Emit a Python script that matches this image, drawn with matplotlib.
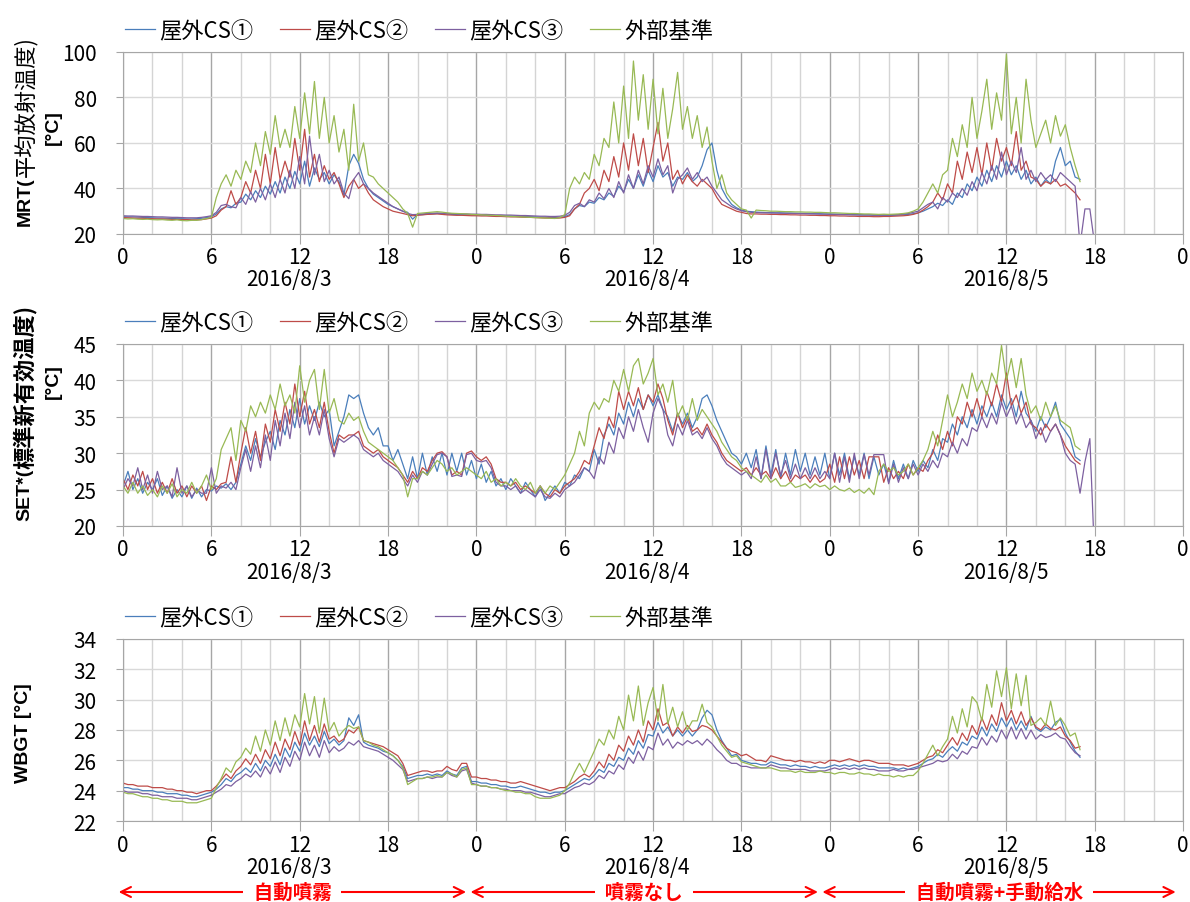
import numpy as np
import matplotlib
matplotlib.use('Agg')
import matplotlib.pyplot as plt
import matplotlib.transforms as mtransforms

plt.rcParams['font.family'] = ['Noto Sans CJK JP', 'DejaVu Sans']

series_names = ['屋外CS①', '屋外CS②', '屋外CS③', '外部基準']
colors = ['#4a7ebb', '#be4b48', '#7d60a0', '#98b954']
hour_labels = ['0', '6', '12', '18'] * 3 + ['0']
dates = ['2016/8/3', '2016/8/4', '2016/8/5']
date_pos = [11.3, 35.6, 60.0]
periods = ['自動噴霧', '噴霧なし', '自動噴霧+手動給水']
period_spans = [(-0.3, 23.3), (23.6, 47.2), (47.5, 71.5)]

# values every 20 min from 2016/8/3 0:00 (6 values = 2 hours per row)
mrt_cs1 = [
    27.6, 27.5, 27.5, 27.4, 27.3, 27.2,
    27.1, 27.0, 27.0, 26.9, 26.8, 26.7,
    26.7, 26.6, 26.6, 26.7, 26.9, 27.2,
    27.6, 28.8, 31.0, 32.0, 31.5, 33.5,
    34.0, 37.5, 35.0, 39.0, 36.0, 41.0,
    37.5, 43.0, 38.0, 45.0, 40.0, 47.5,
    42.0, 52.0, 41.0, 49.0, 44.0, 47.0,
    42.0, 46.0, 43.0, 37.0, 50.0, 55.0,
    51.0, 44.0, 40.0, 37.5, 36.0, 34.5,
    33.0, 32.0, 31.0, 30.0, 29.5, 26.5,
    28.5, 28.5, 28.7, 28.8, 29.0, 28.9,
    28.8, 28.6, 28.5, 28.5, 28.4, 28.4,
    28.3, 28.3, 28.2, 28.1, 28.0, 28.0,
    27.9, 27.9, 27.8, 27.7, 27.7, 27.6,
    27.5, 27.4, 27.4, 27.3, 27.2, 27.3,
    27.6, 28.5, 31.0, 32.5, 32.0, 34.0,
    33.5, 36.0, 35.0, 38.0, 36.5, 41.0,
    38.5, 44.0, 40.0, 46.0, 41.0, 48.0,
    43.0, 50.0, 45.0, 47.0, 41.0, 45.0,
    44.0, 47.0, 43.0, 45.0, 50.0, 57.0,
    60.0, 48.0, 40.0, 36.0, 33.0, 31.5,
    30.5, 30.0, 29.8, 29.6, 29.5, 29.4,
    29.4, 29.3, 29.3, 29.2, 29.2, 29.1,
    29.1, 29.0, 29.0, 28.9, 28.9, 28.8,
    28.8, 28.7, 28.7, 28.6, 28.6, 28.5,
    28.5, 28.4, 28.4, 28.3, 28.3, 28.2,
    28.2, 28.2, 28.3, 28.4, 28.6, 28.9,
    29.3, 30.0, 31.0, 32.0, 33.5, 32.5,
    35.0, 33.0, 38.0, 36.0, 42.0, 39.0,
    45.0, 41.0, 48.0, 43.0, 50.0, 45.0,
    52.0, 46.0, 50.0, 44.0, 48.0, 42.0,
    45.0, 41.0, 44.0, 42.0, 52.0, 58.0,
    50.0, 52.0, 45.0, 44.0,
]
mrt_cs2 = [
    27.2, 27.1, 27.0, 26.9, 26.9, 26.8,
    26.7, 26.6, 26.6, 26.5, 26.4, 26.4,
    26.3, 26.3, 26.2, 26.2, 26.3, 26.6,
    27.0, 28.0, 30.5, 32.0, 39.0, 33.0,
    36.0, 43.0, 38.0, 48.0, 40.0, 55.0,
    42.0, 58.0, 44.0, 52.0, 45.0, 62.0,
    48.0, 66.0, 45.0, 55.0, 43.0, 50.0,
    44.0, 47.0, 42.0, 36.0, 41.0, 44.0,
    40.0, 42.0, 38.0, 35.0, 33.5, 32.0,
    31.0, 30.0, 29.5, 29.0, 28.5, 28.0,
    28.2, 28.4, 28.6, 28.7, 28.8, 28.6,
    28.4, 28.3, 28.2, 28.2, 28.1, 28.0,
    28.0, 27.9, 27.9, 27.8, 27.7, 27.7,
    27.6, 27.5, 27.5, 27.4, 27.3, 27.3,
    27.2, 27.1, 27.0, 27.0, 26.9, 27.0,
    27.3, 28.0, 31.0, 33.0, 38.0, 40.0,
    44.0, 39.0, 48.0, 43.0, 54.0, 45.0,
    60.0, 48.0, 64.0, 50.0, 62.0, 47.0,
    58.0, 69.0, 52.0, 60.0, 44.0, 48.0,
    42.0, 46.0, 43.0, 41.0, 44.0, 42.0,
    40.0, 36.0, 33.0, 32.0, 31.0, 30.0,
    29.5, 29.0, 28.8, 28.8, 28.7, 28.7,
    28.6, 28.6, 28.5, 28.5, 28.4, 28.4,
    28.3, 28.3, 28.2, 28.2, 28.1, 28.1,
    28.0, 28.0, 27.9, 27.9, 27.8, 27.8,
    27.7, 27.7, 27.7, 27.6, 27.6, 27.7,
    27.7, 27.8, 27.9, 28.0, 28.2, 28.6,
    29.2, 30.5, 32.0, 34.0, 38.0, 35.0,
    42.0, 38.0, 52.0, 44.0, 56.0, 47.0,
    58.0, 46.0, 60.0, 48.0, 62.0, 52.0,
    58.0, 50.0, 65.0, 48.0, 52.0, 45.0,
    44.0, 41.0, 43.0, 42.0, 44.0, 41.0,
    42.0, 40.0, 38.0, 35.0,
]
mrt_cs3 = [
    28.0, 27.9, 27.9, 27.8, 27.7, 27.7,
    27.6, 27.5, 27.5, 27.4, 27.3, 27.3,
    27.2, 27.1, 27.1, 27.1, 27.3, 27.6,
    28.0, 29.5, 32.5, 33.0, 32.0, 31.5,
    36.0, 33.0, 38.5, 34.0, 40.0, 35.0,
    42.0, 36.0, 44.0, 38.0, 48.0, 40.0,
    54.0, 42.0, 63.0, 46.0, 55.0, 43.0,
    48.0, 42.0, 45.0, 38.0, 35.5, 44.0,
    47.0, 42.0, 40.0, 38.0, 36.5, 35.0,
    33.5, 32.0, 31.0, 30.0, 29.0, 28.5,
    28.6, 28.8, 29.0, 29.1, 29.2, 29.1,
    29.0, 28.9, 28.9, 28.8, 28.8, 28.7,
    28.7, 28.6, 28.6, 28.5, 28.4, 28.4,
    28.3, 28.3, 28.2, 28.1, 28.1, 28.0,
    27.9, 27.8, 27.8, 27.7, 27.7, 27.8,
    28.2, 29.5, 32.5, 33.5, 32.0, 35.0,
    34.0, 38.0, 35.5, 40.0, 36.0, 43.0,
    38.0, 46.0, 40.0, 48.0, 42.0, 50.0,
    45.0, 53.0, 46.0, 50.0, 38.0, 44.0,
    46.0, 49.0, 44.0, 47.0, 43.0, 45.0,
    41.0, 38.0, 35.0, 33.5, 32.0, 31.0,
    30.2, 29.8, 29.5, 29.4, 29.3, 29.3,
    29.2, 29.2, 29.1, 29.1, 29.0, 29.0,
    28.9, 28.9, 28.8, 28.8, 28.7, 28.7,
    28.6, 28.6, 28.5, 28.5, 28.4, 28.4,
    28.3, 28.3, 28.3, 28.2, 28.2, 28.3,
    28.3, 28.4, 28.5, 28.7, 29.0, 29.5,
    30.0, 31.5, 33.0, 34.0, 31.0, 36.0,
    34.0, 38.0, 36.0, 40.0, 37.0, 43.0,
    39.0, 47.0, 42.0, 50.0, 44.0, 56.0,
    46.0, 52.0, 47.0, 58.0, 44.0, 48.0,
    43.0, 47.0, 44.0, 46.0, 43.0, 47.0,
    45.0, 43.0, 41.0, 15.0, 31.0, 31.0,
    15.0,
]
mrt_ref = [
    26.8, 26.6, 26.7, 26.5, 26.4, 26.5,
    26.3, 26.2, 26.3, 26.1, 26.0, 26.2,
    25.9, 25.8, 26.0, 26.0, 26.3, 26.8,
    27.3, 36.0, 42.0, 46.0, 41.0, 48.0,
    44.0, 52.0, 47.0, 60.0, 50.0, 65.0,
    55.0, 72.0, 58.0, 66.0, 58.0, 76.0,
    62.0, 82.0, 64.0, 87.0, 62.0, 80.0,
    60.0, 72.0, 56.0, 66.0, 48.0, 77.0,
    52.0, 60.0, 46.0, 45.0, 42.0, 40.0,
    38.0, 36.0, 34.0, 31.0, 29.0, 23.0,
    29.0, 29.2, 29.4, 29.6, 29.8, 29.6,
    29.3, 29.1, 29.0, 28.9, 28.8, 28.6,
    28.5, 28.4, 28.3, 28.2, 28.1, 28.0,
    27.8, 27.7, 27.6, 27.5, 27.4, 27.3,
    27.2, 27.1, 27.0, 26.9, 26.8, 27.2,
    28.5, 40.0, 45.0, 42.0, 47.0, 44.0,
    55.0, 50.0, 62.0, 58.0, 78.0, 60.0,
    85.0, 62.0, 96.0, 70.0, 90.0, 66.0,
    88.0, 64.0, 84.0, 62.0, 75.0, 91.0,
    66.0, 76.0, 62.0, 72.0, 58.0, 67.0,
    52.0, 40.0, 46.0, 38.0, 35.0, 33.0,
    31.0, 30.5, 27.0, 30.5, 30.3, 30.2,
    30.0, 30.0, 29.9, 29.8, 29.8, 29.7,
    29.7, 29.6, 29.6, 29.5, 29.5, 29.4,
    29.3, 29.3, 29.2, 29.1, 29.0, 29.0,
    28.9, 28.8, 28.8, 28.7, 28.6, 28.7,
    28.6, 28.7, 28.8, 29.0, 29.3, 30.0,
    31.0, 34.0, 38.0, 42.0, 38.0, 46.0,
    48.0, 62.0, 54.0, 68.0, 58.0, 80.0,
    62.0, 74.0, 88.0, 66.0, 82.0, 70.0,
    99.0, 64.0, 80.0, 60.0, 88.0, 70.0,
    58.0, 64.0, 70.0, 60.0, 72.0, 63.0,
    68.0, 58.0, 50.0, 43.0,
]

set_cs1 = [
    25.5, 27.5, 25.0, 26.5, 24.5, 26.0,
    25.0, 26.5, 24.2, 25.5, 23.8, 25.0,
    24.0, 25.5, 23.8, 25.2, 24.0, 25.0,
    24.8, 25.5, 25.2, 25.8, 25.0, 26.0,
    28.5, 31.0, 29.0, 32.0, 29.5, 31.5,
    33.0, 30.5, 34.5, 32.5, 36.0, 33.5,
    37.5, 34.0, 36.5, 34.5, 37.0, 35.0,
    36.0, 31.0, 33.0, 35.0, 38.0, 37.5,
    38.0, 35.5, 33.5, 32.5, 33.5, 31.0,
    31.0, 29.0, 30.5, 28.5, 26.5, 29.5,
    26.5, 30.0, 27.0, 29.5, 27.5, 30.0,
    27.0, 30.0, 27.5, 30.0, 27.0, 29.0,
    26.5, 28.5, 26.0, 27.5, 25.5, 26.5,
    25.0, 26.5, 25.5, 24.5, 26.0, 25.0,
    24.0, 25.5, 23.5, 24.5, 25.5, 24.5,
    26.0, 25.5, 27.0, 26.5, 28.0, 27.5,
    30.5, 28.5, 32.5, 34.0, 32.5, 35.5,
    34.0, 37.0, 35.0, 37.5, 36.0, 38.0,
    36.5, 38.0, 36.0, 35.0, 33.0, 35.5,
    34.0, 35.5, 33.5, 35.0, 37.5, 38.0,
    36.5, 34.5, 33.0, 31.5, 30.0, 29.5,
    28.5, 30.0, 28.0, 30.5, 26.5, 31.0,
    27.0, 30.5, 26.5, 30.0, 27.0, 30.5,
    27.5, 30.0, 27.0, 29.5, 27.0, 30.0,
    26.5, 30.0, 27.0, 30.0, 26.5, 29.5,
    27.0, 30.0, 26.5, 29.5, 27.0, 28.5,
    26.0, 29.0, 26.5, 28.5, 26.5, 29.0,
    27.5, 29.0, 28.0, 30.5, 29.0, 32.0,
    31.5, 34.0, 32.5, 35.0, 33.5, 36.0,
    34.0, 36.5, 35.0, 37.0, 35.0, 38.0,
    36.0, 37.5, 35.0, 38.5, 35.5, 34.5,
    33.0, 35.0, 33.5, 35.0, 37.0, 34.0,
    33.0, 32.0, 29.5, 29.0,
]
set_cs2 = [
    26.5, 25.0, 27.0, 25.5, 27.5, 25.0,
    26.5, 24.5, 26.0, 24.5, 26.5, 24.5,
    25.5, 24.0, 25.5, 24.5, 25.5, 23.5,
    25.5, 25.0, 25.8, 26.0, 29.5, 26.0,
    30.0, 33.5, 30.0, 33.0, 29.0, 34.0,
    31.5, 36.0, 33.0, 37.0, 34.0, 39.5,
    35.0, 38.5, 34.0, 36.0, 33.5, 37.0,
    33.0, 30.0, 32.5, 32.0, 32.5, 32.5,
    33.0, 31.0, 30.5, 30.0, 30.5, 29.5,
    29.0, 28.5, 28.0, 27.0, 26.0, 27.5,
    26.5, 28.0, 27.5, 29.0, 30.0, 30.2,
    29.5, 27.0, 27.5, 27.0, 30.0, 30.3,
    29.5, 29.0, 29.5, 28.5, 26.5, 26.0,
    26.0, 25.5, 26.0, 25.0, 25.5, 25.0,
    24.5, 25.5, 24.5, 24.0, 25.0, 24.5,
    25.5, 26.0, 26.5, 27.5, 29.0, 28.5,
    31.0, 33.5, 32.0, 35.0, 33.5, 38.5,
    36.0, 38.5, 36.5, 39.0, 36.0, 38.0,
    37.0, 39.5, 37.5, 34.5, 32.5, 35.5,
    33.5, 35.0, 33.0, 33.5, 32.5, 34.0,
    32.5, 31.5, 30.0, 29.0, 28.5, 28.0,
    27.5, 28.0, 27.0, 28.0, 27.0, 27.5,
    26.5, 28.0, 26.5, 27.5, 26.0, 27.0,
    26.5, 27.0, 26.0, 27.0, 26.0, 26.5,
    28.5, 26.0, 29.5, 26.5, 29.5, 27.0,
    29.0, 26.5, 29.5, 29.5, 29.5, 26.0,
    28.0, 26.5, 27.5, 26.5, 28.5, 27.0,
    28.0, 27.5, 29.0, 30.0, 32.5, 30.5,
    33.0, 31.0, 35.0, 34.0, 37.0, 35.0,
    37.5, 35.0, 38.5, 36.5, 39.5, 37.0,
    41.0, 36.5, 38.0, 35.5, 37.0, 34.0,
    33.5, 32.5, 34.0, 33.0, 34.0, 32.5,
    31.0, 30.0, 29.0, 28.5,
]
set_cs3 = [
    25.0, 26.5, 25.5, 28.0, 25.0, 27.0,
    24.5, 27.5, 25.0, 25.5, 24.0, 28.0,
    24.5, 25.5, 24.0, 25.0, 24.5, 24.5,
    28.0, 24.5, 25.5, 25.2, 26.0, 25.0,
    28.0, 30.5, 27.5, 31.0, 28.0, 32.5,
    29.0, 34.5, 31.0, 35.5, 32.0, 37.0,
    33.5, 36.5, 32.5, 35.0, 32.5, 36.0,
    32.0, 29.5, 32.0, 31.5, 32.0, 32.5,
    32.0, 30.5, 30.0, 29.5, 30.0, 29.0,
    28.5, 28.0, 27.5, 26.5, 25.5, 27.0,
    26.0, 27.5, 27.0, 28.5, 29.8, 30.0,
    29.5, 26.8, 27.0, 26.8, 29.8, 30.0,
    29.0, 28.8, 29.0, 28.0, 26.0, 25.5,
    25.5, 25.0, 25.5, 24.5, 25.0, 24.5,
    24.0, 25.0, 24.0, 23.8, 24.5, 24.0,
    25.0, 25.5, 26.0, 27.0, 28.0, 27.5,
    26.5, 29.5, 28.5, 31.5, 30.0, 33.5,
    32.0, 35.0, 33.0, 36.0, 33.5, 31.5,
    35.5, 37.5, 36.0, 32.5, 31.0, 34.0,
    32.5, 34.5, 32.5, 33.0, 32.0, 33.5,
    32.0, 31.0, 29.5, 28.5, 28.0, 27.5,
    27.0, 27.5, 26.5, 29.5, 26.5, 30.5,
    26.5, 30.0, 27.0, 29.0, 26.5, 28.5,
    26.5, 28.0, 26.5, 28.0, 26.5, 27.5,
    26.5, 30.0, 26.0, 29.5, 26.0, 30.0,
    26.5, 29.8, 27.0, 29.8, 29.8, 29.8,
    25.8, 28.5, 26.0, 28.0, 26.5, 28.5,
    27.0, 28.5, 27.5, 29.0, 28.0, 30.0,
    29.5, 31.5, 30.0, 32.0, 31.0, 33.5,
    33.0, 35.0, 33.5, 35.5, 34.0, 37.0,
    35.0, 36.5, 34.0, 35.5, 33.5, 34.5,
    32.0, 33.5, 31.5, 33.0, 34.0, 32.5,
    30.0, 29.0, 28.5, 24.5, 28.8, 32.0,
    15.0,
]
set_ref = [
    25.5, 24.5, 26.0, 24.5, 25.5, 24.2,
    25.0, 24.0, 25.5, 24.5, 25.8, 24.0,
    25.0, 24.5, 26.0, 24.5, 25.5, 27.0,
    25.0, 26.5, 30.5, 32.0, 33.5, 29.0,
    34.5, 33.0, 36.5, 35.0, 37.0, 35.5,
    38.0, 36.0, 39.5, 36.5, 38.0, 35.5,
    42.0, 37.0, 40.0, 41.5, 36.0, 41.5,
    35.5, 37.5, 34.5, 34.0, 35.5, 34.5,
    35.0, 33.0, 31.5, 31.0, 30.5, 30.0,
    29.5, 29.0, 28.0, 27.0, 24.0, 26.5,
    26.5, 27.5, 27.0, 28.0, 29.0, 28.5,
    27.5, 28.0, 27.0, 27.5, 28.0, 27.5,
    27.0, 26.5, 27.5, 26.0, 26.5, 25.5,
    26.0, 25.5, 26.5, 25.5, 25.0, 26.0,
    24.5, 25.5, 24.5, 25.5, 25.0, 26.0,
    27.0, 28.5, 30.0, 33.0, 31.0, 35.5,
    37.0, 36.0, 37.5, 37.0, 40.0, 38.5,
    41.5, 38.5, 42.0, 43.0, 39.5, 41.0,
    43.0, 38.0, 39.5, 37.0, 40.0, 35.0,
    36.5, 34.5, 37.5, 34.5, 36.0, 35.0,
    34.0, 33.0, 31.5, 30.5, 29.5, 29.0,
    28.0, 27.5, 27.0, 26.5, 26.0, 27.0,
    26.0, 26.5, 25.5, 25.5, 26.0, 25.3,
    25.5, 25.8, 25.2, 25.8, 25.4, 25.6,
    25.0, 25.5, 25.0, 24.8, 25.2, 24.6,
    25.0, 24.5, 25.2, 24.3, 27.5, 28.5,
    27.5, 28.0, 27.0, 27.5, 28.5, 27.0,
    28.0, 29.0, 30.5, 33.0, 31.0, 34.5,
    38.0, 35.0, 37.0, 39.5, 37.5, 41.0,
    38.5, 40.0, 38.0, 41.0, 39.5, 44.8,
    40.0, 43.0, 39.0, 43.0, 38.0, 35.5,
    36.5, 34.5, 37.0, 35.0, 36.5, 34.5,
    34.0, 33.5, 31.0, 30.5,
]

wbgt_cs1 = [
    24.2, 24.2, 24.1, 24.1, 24.0, 24.0,
    24.0, 23.9, 23.9, 23.8, 23.8, 23.8,
    23.7, 23.7, 23.6, 23.6, 23.7, 23.8,
    23.9, 24.1, 24.4, 24.8, 24.6, 25.0,
    25.2, 25.5, 25.2, 25.8, 25.3, 26.0,
    25.6, 26.4, 25.7, 26.8, 26.2, 27.2,
    26.6, 27.8, 27.0, 27.6, 26.9, 27.9,
    27.1, 27.4, 27.0, 27.3, 28.8, 28.3,
    29.0, 27.2, 27.0, 26.9, 26.8, 26.6,
    26.5, 26.3, 26.0, 25.6, 24.8, 24.9,
    25.0, 25.0, 25.1, 25.0, 25.1, 25.0,
    25.3, 25.1, 25.0, 25.5, 25.6, 24.6,
    24.6, 24.5, 24.5, 24.4, 24.4, 24.3,
    24.3, 24.2, 24.2, 24.3, 24.2, 24.1,
    24.0, 23.9, 23.9, 23.8, 23.9, 23.9,
    24.0, 24.2, 24.4, 24.6, 24.8, 24.7,
    25.0, 25.4, 25.2, 25.8, 25.6, 26.2,
    26.0, 26.8, 26.4, 27.3, 26.8, 27.7,
    27.6, 28.5, 27.8, 28.2, 27.6, 28.0,
    27.6, 28.0, 27.6, 28.0, 28.8, 29.3,
    29.0, 28.0, 27.3, 26.8, 26.3, 26.4,
    26.0, 25.9, 25.8, 25.8, 25.7, 25.7,
    25.9, 25.8, 25.7, 25.7, 25.6, 25.7,
    25.6, 25.6, 25.5, 25.6, 25.5, 25.5,
    25.6, 25.7, 25.6, 25.7, 25.6, 25.7,
    25.6, 25.7, 25.6, 25.6, 25.5, 25.5,
    25.5, 25.5, 25.4, 25.5, 25.4, 25.5,
    25.6, 25.8, 26.0, 26.1, 26.4, 26.2,
    26.6, 26.9, 26.6, 27.2, 27.0, 27.6,
    27.4, 28.2, 27.6, 28.4, 27.9, 28.8,
    28.2, 28.8, 28.0, 28.6, 28.0, 28.9,
    28.1, 27.9, 28.2, 28.0, 28.5, 28.7,
    27.8, 27.2, 26.6, 26.2,
]
wbgt_cs2 = [
    24.5, 24.4, 24.4, 24.3, 24.3, 24.3,
    24.2, 24.2, 24.2, 24.1, 24.1, 24.0,
    24.0, 23.9, 23.9, 23.8, 23.9, 24.0,
    24.0, 24.3, 24.7, 25.1, 24.8, 25.3,
    25.6, 26.1, 25.7, 26.4, 25.8, 26.7,
    26.1, 27.2, 26.3, 27.4, 26.7, 27.9,
    27.0, 28.6, 27.3, 28.3, 27.2, 28.4,
    27.4, 27.6, 27.2, 27.4, 28.0, 27.8,
    28.2, 27.3, 27.2, 27.1, 27.0, 26.9,
    26.7, 26.5, 26.3, 25.8, 25.0, 25.1,
    25.2, 25.3, 25.3, 25.2, 25.3, 25.3,
    25.6, 25.4, 25.3, 25.8, 25.8, 24.9,
    24.9, 24.8, 24.8, 24.7, 24.7, 24.6,
    24.6, 24.5, 24.5, 24.6, 24.5, 24.4,
    24.3, 24.2, 24.1, 24.0, 24.1, 24.2,
    24.2, 24.4, 24.6, 24.9, 25.1, 24.9,
    25.3, 25.9, 25.5, 26.4, 26.0, 27.0,
    26.6, 27.6, 27.0, 28.0, 27.2, 28.6,
    28.0, 29.4, 28.3, 28.5, 27.6, 28.2,
    27.8, 28.3, 27.9, 28.0, 28.3, 28.2,
    28.0, 27.6, 27.2, 26.8, 26.6, 26.5,
    26.3, 26.4, 26.2, 26.0, 26.0, 25.9,
    26.3, 26.2, 26.1, 26.0, 26.0, 25.9,
    26.0, 25.9, 25.9, 25.8, 25.9, 25.8,
    26.0, 26.0, 25.9, 26.0, 26.1, 26.0,
    25.9, 26.0, 26.0, 25.9, 25.8, 25.8,
    25.8, 25.7, 25.7, 25.7, 25.6, 25.7,
    25.8, 26.0, 26.2, 26.3, 26.7, 26.5,
    27.0, 27.5, 27.0, 27.8, 27.3, 28.3,
    27.7, 28.8, 28.0, 29.0, 28.3, 29.8,
    28.6, 29.3, 28.4, 29.2, 28.3, 28.8,
    28.2, 28.0, 28.4, 28.1, 28.0, 28.2,
    27.6, 27.3, 26.8, 26.9,
]
wbgt_cs3 = [
    24.0, 23.9, 23.9, 23.9, 23.8, 23.8,
    23.7, 23.7, 23.6, 23.6, 23.6, 23.5,
    23.5, 23.5, 23.4, 23.4, 23.5, 23.6,
    23.7, 23.9, 24.1, 24.4, 24.3, 24.6,
    24.8, 25.1, 24.9, 25.3, 24.9, 25.6,
    25.1, 25.9, 25.2, 26.2, 25.6, 26.6,
    26.0, 27.2, 26.3, 27.0, 26.2, 27.3,
    26.5, 26.9, 26.6, 26.8, 27.2, 27.0,
    27.3, 26.9, 26.8, 26.7, 26.6, 26.4,
    26.2, 26.0, 25.7, 25.4, 24.6, 24.7,
    24.8, 24.8, 24.9, 24.8, 24.9, 24.9,
    25.2, 25.0, 24.9, 25.3, 25.4, 24.5,
    24.4, 24.3, 24.3, 24.2, 24.2, 24.1,
    24.1, 24.0, 24.0, 24.0, 23.9, 23.9,
    23.8, 23.7, 23.6, 23.6, 23.7, 23.8,
    23.8, 24.0, 24.2, 24.3, 24.5, 24.4,
    24.6, 25.0, 24.8, 25.3, 25.1, 25.7,
    25.4, 26.2, 25.8, 26.6, 26.0, 26.9,
    26.7, 27.8, 27.0, 27.4, 26.8, 27.2,
    27.0, 27.3, 27.1, 27.3, 27.0, 27.4,
    27.1, 26.7, 26.4, 26.0, 25.8, 25.8,
    25.6, 25.6, 25.5, 25.5, 25.5, 25.5,
    25.7, 25.6, 25.5, 25.5, 25.4, 25.4,
    25.4, 25.4, 25.3, 25.3, 25.3, 25.3,
    25.4, 25.5, 25.4, 25.5, 25.4, 25.5,
    25.4, 25.5, 25.4, 25.4, 25.3, 25.3,
    25.3, 25.4, 25.3, 25.3, 25.4, 25.4,
    25.5, 25.6, 25.7, 25.8, 26.0, 25.9,
    26.0, 26.4, 26.1, 26.6, 26.4, 26.9,
    26.8, 27.5, 27.0, 27.6, 27.2, 28.0,
    27.4, 28.2, 27.4, 28.1, 27.4, 28.0,
    27.4, 27.7, 27.5, 27.6, 27.8, 27.5,
    27.4, 26.9, 26.5, 26.3,
]
wbgt_ref = [
    23.9, 23.8, 23.8, 23.7, 23.6, 23.6,
    23.5, 23.5, 23.4, 23.4, 23.3, 23.3,
    23.3, 23.2, 23.2, 23.2, 23.3, 23.4,
    23.5, 24.2, 24.8, 25.5, 25.2, 25.9,
    26.2, 26.8, 26.4, 27.6, 26.6, 28.0,
    27.0, 28.6, 27.3, 28.8, 27.6, 29.0,
    28.2, 30.4, 28.4, 30.2, 27.8, 30.1,
    27.9, 28.5, 27.6, 28.0, 28.3, 28.1,
    28.2, 27.3, 27.2, 27.0, 26.9, 26.7,
    26.5, 26.3, 26.0, 25.5, 24.4, 24.6,
    24.8, 24.8, 24.9, 24.9, 25.0, 24.9,
    25.2, 25.1, 24.9, 25.4, 25.5, 24.4,
    24.4, 24.3, 24.3, 24.2, 24.2, 24.1,
    24.0, 24.0, 23.9, 23.9, 23.8, 23.8,
    23.6, 23.5, 23.5, 23.5, 23.6, 23.7,
    24.0, 24.5, 25.2, 25.8, 25.2, 25.9,
    26.6, 27.4, 27.0, 28.0, 27.4, 28.9,
    28.0, 30.3, 28.6, 30.9, 28.3, 29.8,
    30.8, 28.6, 31.0, 28.4, 29.5, 28.2,
    29.2, 28.0, 28.6, 28.6, 29.7, 28.5,
    28.2, 27.6, 27.0, 26.6, 26.2, 26.3,
    25.9, 25.8, 25.7, 25.6, 25.5, 25.5,
    25.5, 25.4, 25.3, 25.3, 25.3, 25.2,
    25.3, 25.2, 25.2, 25.2, 25.3, 25.2,
    25.2, 25.1, 25.2, 25.2, 25.1, 25.1,
    25.2, 25.1, 25.1, 25.0, 25.1, 25.0,
    25.0, 24.9, 25.0, 24.9, 25.0, 25.0,
    25.3, 25.8, 26.4, 27.0, 26.3, 26.9,
    27.4, 28.9, 27.8, 29.4, 28.2, 30.2,
    29.8, 28.6, 31.0, 29.5, 31.9, 30.2,
    32.1, 29.4, 31.7, 29.6, 31.6, 28.3,
    28.5, 28.8, 28.3, 29.9, 28.3, 28.8,
    28.3, 27.6, 27.8, 26.7,
]

panels = [
    ([mrt_cs1, mrt_cs2, mrt_cs3, mrt_ref], (20, 100), 20),
    ([set_cs1, set_cs2, set_cs3, set_ref], (20, 45), 5),
    ([wbgt_cs1, wbgt_cs2, wbgt_cs3, wbgt_ref], (22, 34), 2),
]
bottoms = [0.7398, 0.4164, 0.0897]

W, H = 1190, 903
fig = plt.figure(figsize=(W / 100, H / 100), dpi=100)

for (data, ylim, ystep), b in zip(panels, bottoms):
    ax = fig.add_axes([0.1034, b, 0.8908, 0.2016])
    for vals, c, name in zip(data, colors, series_names):
        t = np.arange(len(vals)) / 3
        ax.plot(t, vals, color=c, lw=0.9, label=name)
    ax.set_xlim(0, 72)
    ax.set_ylim(*ylim)
    ax.set_yticks(np.arange(ylim[0], ylim[1] + 0.1, ystep))
    ax.set_xticks(np.arange(0, 73, 6))
    ax.set_xticklabels(hour_labels)
    ax.set_xticks(np.arange(0, 73, 2), minor=True)
    ax.set_axisbelow(True)
    ax.grid(axis='y', color='#d9d9d9', lw=1)
    ax.grid(axis='x', which='minor', color='#d4d4d4', lw=1)
    ax.grid(axis='x', which='major', color='#a6a6a6', lw=1)
    ax.tick_params(axis='x', which='minor', length=0)
    ax.tick_params(axis='x', which='major', length=7, color='#a6a6a6',
                   labelsize=15, pad=2)
    ax.tick_params(axis='y', length=5, color='#a6a6a6', labelsize=15, pad=14)
    for sp in ax.spines.values():
        sp.set_color('#a6a6a6')

    ax.legend(loc='lower left', bbox_to_anchor=(-0.008, 1.0), ncol=4,
              frameon=False, fontsize=16, handlelength=1.35, handletextpad=0.2,
              columnspacing=1.2, borderaxespad=0.05)

    trans = mtransforms.blended_transform_factory(ax.transData, ax.transAxes)
    for d, x in zip(dates, date_pos):
        ax.text(x, -0.25, d, transform=trans, ha='center', va='center',
                fontsize=15)

# spraying periods under the last panel
for label, (x0, x1) in zip(periods, period_spans):
    ax.annotate('', xy=(x1, -0.39), xytext=(x0, -0.39), xycoords=trans,
                textcoords=trans, annotation_clip=False,
                arrowprops=dict(arrowstyle='<->', color='red', lw=1.5,
                                mutation_scale=18, shrinkA=0, shrinkB=0))
    ax.text((x0 + x1) / 2, -0.39, '  ' + label + '  ', transform=trans,
            ha='center', va='center', fontsize=14, fontweight='bold',
            color='red', bbox=dict(facecolor='white', edgecolor='none', pad=1))

# y axis titles: latin part bold, japanese part stacked after it
latin = dict(family=['Liberation Sans', 'DejaVu Sans'], fontweight='bold',
             fontsize=14)
renderer = fig.canvas.get_renderer()


def vlabel(x_px, bottom_px, pieces):
    y = 1 - bottom_px / H
    for text, kw in pieces:
        t = fig.text(x_px / W, y, text, rotation=90, rotation_mode='anchor',
                     ha='left', va='center', **kw)
        y += t.get_window_extent(renderer).height / H


vlabel(25, 226, [('MRT(', latin),
                 ('平均放射温度)', dict(fontsize=16))])
fig.text(53 / W, 1 - 128 / H, '[°C]', rotation=90, ha='center', va='center',
         **latin)
vlabel(25, 521, [('SET*(', latin),
                 ('標準新有効温度)', dict(fontsize=16, fontweight='bold'))])
fig.text(53 / W, 1 - 382 / H, '[°C]', rotation=90, ha='center', va='center',
         **latin)
fig.text(24 / W, 1 - 733 / H, 'WBGT [°C]', rotation=90, ha='center',
         va='center', **latin)

fig.savefig('out.png', dpi=100)
